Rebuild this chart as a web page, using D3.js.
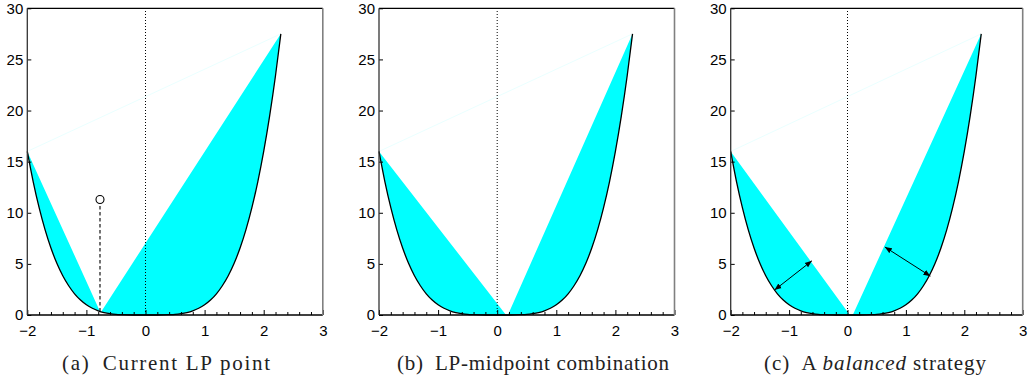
<!DOCTYPE html>
<html><head><meta charset="utf-8">
<script src="https://cdn.jsdelivr.net/npm/d3@7"></script>
<style>
html,body{margin:0;padding:0;background:#fff;}
svg{display:block;}
</style></head>
<body>
<script>
// ---- data ----
const curveX = [-2.0,-1.9,-1.8,-1.7,-1.6,-1.5,-1.4,-1.3,-1.2,-1.1,-1.0,-0.9,-0.8,-0.7,-0.6,-0.5,-0.4,-0.3,-0.2,-0.1,0.0,0.1,0.2,0.3,0.4,0.5,0.6,0.7,0.8,0.9,1.0,1.1,1.2,1.3,1.4,1.5,1.6,1.7,1.8,1.9,2.0,2.1,2.2,2.29];
const curveY = [16.0,13.03,10.5,8.35,6.55,5.06,3.84,2.86,2.07,1.46,1.0,0.66,0.41,0.24,0.13,0.06,0.03,0.01,0.0,0.0,0.0,0.0,0.0,0.01,0.03,0.06,0.13,0.24,0.41,0.66,1.0,1.46,2.07,2.86,3.84,5.06,6.55,8.35,10.5,13.03,16.0,19.45,23.43,27.5];
const captions = ["Current LP point", "LP-midpoint combination", "strategy"];
const captionLetters = ["(a)", "(b)", "(c)"];
// split points of each panel: left region ends at [x,y], right region starts at [x,y]
const leftEnd    = [[-0.77, 0.35], [0.15, 0.0], [0.04, 0.0]];
const rightStart = [[-0.75, 0.32], [0.18, 0.0], [0.09, 0.0]];
const lpPoint = [-0.77, 11.3];
const lpFoot  = [-0.77, 0.35];
const arrowsC = [[[-1.25, 2.44], [-0.61, 5.3]], [[0.64, 6.65], [1.42, 3.8]]];
const xMajorTicks = [-2,-1,0,1,2,3];
const xMinorTicks = [-1.8,-1.6,-1.4,-1.2,-0.8,-0.6,-0.4,-0.2,0.2,0.4,0.6,0.8,1.2,1.4,1.6,1.8,2.2,2.4,2.6,2.8];
const yTicks = [0,5,10,15,20,25,30];

// ---- layout ----
const W = 1030, H = 383;
const panelLeft = [27.3, 379, 730.7];
const panelW = [295.5, 295.5, 292];
const plotTop = 8.3, plotBottom = 315;
const captionX0 = [62, 397, 764];
const captionLen = [208, 272, 222];

const svg = d3.select("body").append("svg").attr("width", W).attr("height", H);
const defs = svg.append("defs");
["s","e"].forEach(k=>{
  defs.append("marker").attr("id","ah"+k).attr("viewBox","0 0 10 10")
    .attr("refX", 10).attr("refY",5).attr("markerWidth",7).attr("markerHeight",7)
    .attr("markerUnits","userSpaceOnUse")
    .attr("orient", k==="s" ? "auto-start-reverse" : "auto")
    .append("path").attr("d","M0,1 L10,5 L0,9 Z").attr("fill","#000");
});

const pts = curveX.map((x,i)=>[x, curveY[i]]);
const fmt = d3.format("d");

for (let p = 0; p < 3; p++) {
  const x = d3.scaleLinear().domain([-2,3]).range([panelLeft[p], panelLeft[p]+panelW[p]]);
  const y = d3.scaleLinear().domain([0,30]).range([plotBottom, plotTop]);
  const g = svg.append("g");
  const line = d3.line().x(d=>x(d[0])).y(d=>y(d[1])).curve(d3.curveMonotoneX);

  // faint artifact line between chord ends
  g.append("line").attr("x1", x(pts[0][0])).attr("y1", y(pts[0][1]))
    .attr("x2", x(pts[pts.length-1][0])).attr("y2", y(pts[pts.length-1][1]))
    .attr("stroke", "#dcffff").attr("stroke-width", 0.6);

  // left region
  const leftPts = [pts[0]].concat(pts.filter(d=>d[0]>pts[0][0] && d[0]<leftEnd[p][0]), [leftEnd[p]]);
  g.append("path").attr("d", line(leftPts)+"Z").attr("fill","#00ffff").attr("stroke","none");
  // right region
  const last = pts[pts.length-1];
  const rightPts = [rightStart[p]].concat(pts.filter(d=>d[0]>rightStart[p][0] && d[0]<last[0]), [last]);
  g.append("path").attr("d", line(rightPts)+"Z").attr("fill","#00ffff").attr("stroke","none");

  // dotted zero line
  g.append("line").attr("x1", x(0)).attr("x2", x(0)).attr("y1", y(0)).attr("y2", y(30))
    .attr("stroke","#000").attr("stroke-width",1).attr("stroke-dasharray","1,2");

  // curve
  g.append("path").attr("d", line(pts)).attr("fill","none").attr("stroke","#000").attr("stroke-width",1.3);

  if (p === 0) {
    g.append("line").attr("x1", x(lpFoot[0])).attr("x2", x(lpPoint[0]))
      .attr("y1", y(lpFoot[1])).attr("y2", y(lpPoint[1]) + 4)
      .attr("stroke","#000").attr("stroke-width",1.1).attr("stroke-dasharray","3.5,2.5");
    g.append("circle").attr("cx", x(lpPoint[0])).attr("cy", y(lpPoint[1])).attr("r", 4)
      .attr("fill","#fff").attr("stroke","#000").attr("stroke-width",1.1);
  }
  if (p === 2) {
    arrowsC.forEach(a=>{
      g.append("line").attr("x1", x(a[0][0])).attr("y1", y(a[0][1]))
        .attr("x2", x(a[1][0])).attr("y2", y(a[1][1]))
        .attr("stroke","#000").attr("stroke-width",1)
        .attr("marker-start","url(#ahs)").attr("marker-end","url(#ahe)");
    });
  }

  // axes
  const xAxis = g.append("g").attr("transform", `translate(0,${plotBottom})`)
    .call(d3.axisBottom(x).tickValues(xMajorTicks).tickFormat(fmt).tickSizeInner(-5).tickSizeOuter(0).tickPadding(10));
  const xMinor = g.append("g").attr("transform", `translate(0,${plotBottom})`)
    .call(d3.axisBottom(x).tickValues(xMinorTicks).tickSizeInner(-3).tickSizeOuter(0).tickFormat(""));
  const yAxis = g.append("g").attr("transform", `translate(${panelLeft[p]},0)`)
    .call(d3.axisLeft(y).tickValues(yTicks).tickFormat(fmt).tickSizeInner(-4).tickSizeOuter(0).tickPadding(4));
  [xAxis, xMinor, yAxis].forEach(a=>{
    a.select(".domain").remove();
    a.selectAll("line").attr("stroke","#000").attr("stroke-width",1);
    a.selectAll("text").attr("font-family","'Liberation Sans', Arial, sans-serif").attr("font-size",15).attr("fill","#000");
  });

  // frame
  const L = panelLeft[p], R = panelLeft[p]+panelW[p];
  g.append("line").attr("x1",L).attr("x2",R).attr("y1",plotTop).attr("y2",plotTop).attr("stroke","#000").attr("stroke-width",1.2);
  g.append("line").attr("x1",L).attr("x2",R).attr("y1",plotBottom).attr("y2",plotBottom).attr("stroke","#000").attr("stroke-width",1.4);
  g.append("line").attr("x1",L).attr("x2",L).attr("y1",plotTop).attr("y2",plotBottom).attr("stroke","#333").attr("stroke-width",1.3);
  g.append("line").attr("x1",R).attr("x2",R).attr("y1",plotTop).attr("y2",plotBottom).attr("stroke","#808080").attr("stroke-width",1.6);

  // caption
  const t = svg.append("text").attr("x", captionX0[p]).attr("y", 370)
    .attr("text-anchor","start").attr("font-family","'Liberation Serif', 'Times New Roman', serif")
    .attr("font-size",21).attr("fill","#222")
    .attr("textLength", captionLen[p]).attr("lengthAdjust","spacing");
  t.append("tspan").text(captionLetters[p] + "\u2002");
  if (p === 2) {
    t.append("tspan").text("A ");
    t.append("tspan").attr("font-style","italic").text("balanced");
    t.append("tspan").text(" " + captions[p]);
  } else {
    t.append("tspan").text(captions[p]);
  }
}
</script>
</body></html>
